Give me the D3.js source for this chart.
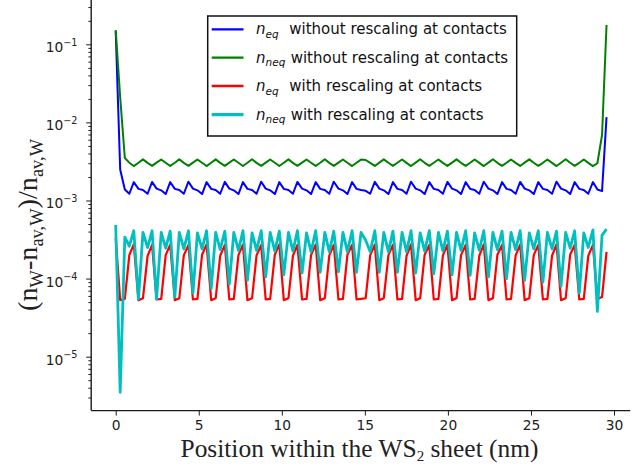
<!DOCTYPE html>
<html><head><meta charset="utf-8">
<script src="https://cdn.jsdelivr.net/npm/d3@7"></script>
<style>body{margin:0;background:#fff}svg{display:block}</style>
</head><body>
<svg id="chart" width="636" height="469"></svg>
<script>
// ---------- data ----------
const xPos = [
0.00,0.27,0.55,0.82,1.09,1.37,1.64,1.92,2.19,2.46,
2.74,3.01,3.28,3.56,3.83,4.10,4.38,4.65,4.92,5.20,
5.47,5.75,6.02,6.29,6.57,6.84,7.11,7.39,7.66,7.93,
8.21,8.48,8.76,9.03,9.30,9.58,9.85,10.12,10.40,10.67,
10.94,11.22,11.49,11.76,12.04,12.31,12.59,12.86,13.13,13.41,
13.68,13.95,14.23,14.50,14.77,15.05,15.32,15.60,15.87,16.14,
16.42,16.69,16.96,17.24,17.51,17.78,18.06,18.33,18.60,18.88,
19.15,19.43,19.70,19.97,20.25,20.52,20.79,21.07,21.34,21.61,
21.89,22.16,22.44,22.71,22.98,23.26,23.53,23.80,24.08,24.35,
24.62,24.90,25.17,25.44,25.72,25.99,26.27,26.54,26.81,27.09,
27.36,27.63,27.91,28.18,28.45,28.73,29.00,29.28,29.55];

const blueEqNoRescale = [
0.148,2.50e-3,1.38e-3,1.22e-3,
1.72e-3,1.41e-3,1.36e-3,1.22e-3, 1.73e-3,1.42e-3,1.35e-3,1.21e-3,
1.72e-3,1.41e-3,1.36e-3,1.22e-3, 1.74e-3,1.42e-3,1.35e-3,1.21e-3,
1.72e-3,1.41e-3,1.36e-3,1.22e-3, 1.73e-3,1.42e-3,1.35e-3,1.21e-3,
1.72e-3,1.41e-3,1.36e-3,1.22e-3, 1.74e-3,1.42e-3,1.35e-3,1.21e-3,
1.72e-3,1.41e-3,1.36e-3,1.22e-3, 1.73e-3,1.42e-3,1.35e-3,1.21e-3,
1.72e-3,1.41e-3,1.36e-3,1.22e-3, 1.74e-3,1.42e-3,1.35e-3,1.21e-3,
1.72e-3,1.41e-3,1.36e-3,1.33e-3,
1.22e-3,1.73e-3,1.42e-3,1.35e-3, 1.21e-3,1.72e-3,1.41e-3,1.36e-3,
1.22e-3,1.74e-3,1.42e-3,1.35e-3, 1.21e-3,1.72e-3,1.41e-3,1.36e-3,
1.22e-3,1.73e-3,1.42e-3,1.35e-3, 1.21e-3,1.72e-3,1.41e-3,1.36e-3,
1.22e-3,1.74e-3,1.42e-3,1.35e-3, 1.21e-3,1.72e-3,1.41e-3,1.36e-3,
1.22e-3,1.73e-3,1.42e-3,1.35e-3, 1.21e-3,1.72e-3,1.41e-3,1.36e-3,
1.22e-3,1.74e-3,1.42e-3,1.35e-3, 1.21e-3,1.72e-3,1.41e-3,1.36e-3,
1.22e-3,1.72e-3,1.38e-3,1.32e-3,
1.17e-2];

const greenNeqNoRescale = [
0.152,0.021,3.50e-3,3.05e-3,
2.76e-3,3.04e-3,3.36e-3,3.03e-3, 2.78e-3,3.05e-3,3.35e-3,3.04e-3,
2.77e-3,3.04e-3,3.37e-3,3.03e-3, 2.78e-3,3.05e-3,3.35e-3,3.04e-3,
2.76e-3,3.04e-3,3.36e-3,3.03e-3, 2.78e-3,3.05e-3,3.35e-3,3.04e-3,
2.77e-3,3.04e-3,3.37e-3,3.03e-3, 2.78e-3,3.05e-3,3.35e-3,3.04e-3,
2.76e-3,3.04e-3,3.36e-3,3.03e-3, 2.78e-3,3.05e-3,3.35e-3,3.04e-3,
2.77e-3,3.04e-3,3.37e-3,3.03e-3, 2.78e-3,3.05e-3,3.35e-3,3.04e-3,
2.76e-3,3.04e-3,3.34e-3,3.30e-3,
3.03e-3,2.77e-3,3.05e-3,3.36e-3, 3.04e-3,2.78e-3,3.04e-3,3.35e-3,
3.03e-3,2.76e-3,3.05e-3,3.37e-3, 3.04e-3,2.78e-3,3.04e-3,3.35e-3,
3.03e-3,2.77e-3,3.05e-3,3.36e-3, 3.04e-3,2.78e-3,3.04e-3,3.35e-3,
3.03e-3,2.76e-3,3.05e-3,3.37e-3, 3.04e-3,2.78e-3,3.04e-3,3.35e-3,
3.03e-3,2.77e-3,3.05e-3,3.36e-3, 3.04e-3,2.78e-3,3.04e-3,3.35e-3,
3.03e-3,2.76e-3,3.05e-3,3.37e-3, 3.04e-3,2.78e-3,3.04e-3,3.35e-3,
3.03e-3,2.75e-3,3.00e-3,6.90e-3,
0.177];

const redEqRescale = [
3.3e-4,5.3e-5,5.5e-5,2.0e-4,
2.75e-4,5.3e-5,5.6e-5,1.95e-4, 2.70e-4,5.4e-5,5.5e-5,2.00e-4,
2.72e-4,5.3e-5,5.6e-5,1.98e-4, 2.70e-4,5.4e-5,5.5e-5,2.02e-4,
2.74e-4,5.3e-5,5.6e-5,1.96e-4, 2.70e-4,5.4e-5,5.5e-5,2.00e-4,
2.72e-4,5.3e-5,5.6e-5,1.98e-4, 2.70e-4,5.4e-5,5.5e-5,2.02e-4,
2.74e-4,5.3e-5,5.6e-5,1.96e-4, 2.70e-4,5.4e-5,5.5e-5,2.00e-4,
2.72e-4,5.3e-5,5.6e-5,1.98e-4, 2.70e-4,5.4e-5,5.5e-5,2.02e-4,
2.70e-4,5.4e-5,5.5e-5,5.6e-5,
1.98e-4,2.72e-4,5.3e-5,5.6e-5, 2.00e-4,2.70e-4,5.4e-5,5.5e-5,
1.96e-4,2.74e-4,5.3e-5,5.6e-5, 2.02e-4,2.70e-4,5.4e-5,5.5e-5,
1.98e-4,2.72e-4,5.3e-5,5.6e-5, 2.00e-4,2.70e-4,5.4e-5,5.5e-5,
1.96e-4,2.74e-4,5.3e-5,5.6e-5, 2.02e-4,2.70e-4,5.4e-5,5.5e-5,
1.98e-4,2.72e-4,5.3e-5,5.6e-5, 2.00e-4,2.70e-4,5.4e-5,5.5e-5,
1.96e-4,2.74e-4,5.3e-5,5.6e-5, 2.02e-4,2.70e-4,5.4e-5,5.5e-5,
1.95e-4,2.70e-4,5.5e-5,5.8e-5,
2.2e-4];

const cyanNeqRescale = [
4.85e-4,3.5e-6,3.4e-4,2.6e-4,
4.10e-4,5.5e-5,3.90e-4,2.50e-4, 4.10e-4,5.5e-5,3.90e-4,2.45e-4,
4.05e-4,5.8e-5,3.90e-4,2.40e-4, 4.10e-4,6.5e-5,3.85e-4,2.40e-4,
4.10e-4,7.5e-5,3.90e-4,2.35e-4, 4.05e-4,8.5e-5,3.90e-4,2.30e-4,
4.10e-4,9.5e-5,3.85e-4,2.30e-4, 4.10e-4,1.05e-4,3.90e-4,2.25e-4,
4.05e-4,1.12e-4,3.90e-4,2.25e-4, 4.10e-4,1.18e-4,3.85e-4,2.20e-4,
4.10e-4,1.20e-4,3.90e-4,2.20e-4, 4.05e-4,1.22e-4,3.90e-4,2.20e-4,
4.10e-4,1.20e-4,3.90e-4,3.10e-4,
2.20e-4,4.10e-4,1.20e-4,3.90e-4, 2.20e-4,4.05e-4,1.20e-4,3.90e-4,
2.20e-4,4.10e-4,1.18e-4,3.85e-4, 2.25e-4,4.10e-4,1.15e-4,3.90e-4,
2.25e-4,4.05e-4,1.12e-4,3.90e-4, 2.30e-4,4.10e-4,1.10e-4,3.85e-4,
2.30e-4,4.10e-4,1.05e-4,3.90e-4, 2.35e-4,4.05e-4,1.00e-4,3.90e-4,
2.35e-4,4.10e-4,9.5e-5,3.85e-4, 2.40e-4,4.10e-4,9.0e-5,3.90e-4,
2.40e-4,4.05e-4,8.0e-5,3.90e-4, 2.45e-4,4.10e-4,6.5e-5,3.85e-4,
2.50e-4,4.20e-4,3.8e-5,3.60e-4,
4.3e-4];

const xTicks = [0, 5, 10, 15, 20, 25, 30];
const yTickExponents = [-1, -2, -3, -4, -5];
const seriesNames = ["eq", "neq", "eq", "neq"];
const seriesTexts = ["without rescaling at contacts", "without rescaling at contacts",
                     "with rescaling at contacts", "with rescaling at contacts"];
const seriesColors = ["#0000ff", "#008000", "#ff0000", "#00bfbf"];
const seriesValues = [blueEqNoRescale, greenNeqNoRescale, redEqRescale, cyanNeqRescale];
const seriesWidths = [2, 2, 2.2, 2.8];
const xLabel = ["Position within the WS", "2", " sheet (nm)"];

// ---------- layout ----------
const svg = d3.select("#chart");
const L = 91.2, R = 630.2, T = 6.6, B = 410.6;
const x = d3.scaleLinear().domain([-1.475, 30.975]).range([L, R]);
const y = d3.scaleLog().domain([2.04e-6, 0.304]).range([B, T]);
const axisColor = "#1a1a1a";

// lines
const lineGen = vals => d3.line().x((d, i) => x(xPos[i])).y(d => y(d))(vals);
seriesValues.forEach((vals, k) => {
  svg.append("path").attr("d", lineGen(vals)).attr("fill", "none")
    .attr("stroke", seriesColors[k]).attr("stroke-width", seriesWidths[k])
    .attr("stroke-linejoin", "round");
});

// x axis
const xAxis = d3.axisBottom(x).tickValues(xTicks).tickSize(5).tickPadding(5).tickFormat(d3.format("d"));
const gx = svg.append("g").attr("transform", `translate(0,${B})`).call(xAxis);
gx.select(".domain").remove();
gx.selectAll(".tick line").attr("stroke", axisColor).attr("stroke-width", 1);
gx.selectAll(".tick text").attr("font-family", "DejaVu Sans").attr("font-size", 13.8).attr("fill", "#222");
svg.append("line").attr("x1", L).attr("x2", R).attr("y1", B).attr("y2", B)
  .attr("stroke", axisColor).attr("stroke-width", 1.4);

// y axis major + minor ticks
const minor = [];
for (let e = -6; e <= 0; e++) for (let m = 2; m <= 9; m++) {
  const v = m * Math.pow(10, e);
  if (v >= y.domain()[0] && v <= y.domain()[1]) minor.push(v);
}
const gy = svg.append("g").attr("transform", `translate(${L},0)`);
gy.call(d3.axisLeft(y).tickValues(minor).tickSize(2.8).tickFormat(""));
gy.call(g => g.select(".domain").remove());
const gyMaj = svg.append("g").attr("transform", `translate(${L},0)`);
gyMaj.call(d3.axisLeft(y).tickValues(yTickExponents.map(e => Math.pow(10, e))).tickSize(5).tickFormat(""));
gyMaj.select(".domain").remove();
svg.selectAll(".tick line").attr("stroke", axisColor).attr("stroke-width", 1);
svg.append("line").attr("x1", L).attr("x2", L).attr("y1", T - 8).attr("y2", B)
  .attr("stroke", axisColor).attr("stroke-width", 1.4);

yTickExponents.forEach(e => {
  const t = svg.append("text").attr("x", 77.5).attr("y", y(Math.pow(10, e)) + 8)
    .attr("text-anchor", "end").attr("font-family", "DejaVu Sans").attr("font-size", 13.8).attr("fill", "#222");
  t.append("tspan").text("10");
  t.append("tspan").attr("dy", -6.5).attr("font-size", 9.7).text("\u2212" + Math.abs(e));
});

// axis titles
const xt = svg.append("text").attr("x", 359.5).attr("y", 457)
  .attr("text-anchor", "middle").attr("font-family", "Liberation Serif").attr("font-size", 23).attr("fill", "#222");
xt.append("tspan").text(xLabel[0]);
xt.append("tspan").attr("dy", 4).attr("font-size", 15).text(xLabel[1]);
xt.append("tspan").attr("dy", -4).text(xLabel[2]);
let w = xt.node().getComputedTextLength();
xt.attr("font-size", 23 * 359 / w);

const yt = svg.append("text").attr("transform", "translate(37,225) rotate(-90)")
  .attr("text-anchor", "middle").attr("font-family", "Liberation Serif").attr("fill", "#222");
const yParts = [["(n", 0, 1], ["W", 5, 0.65], ["-n", -5, 1], ["av,W", 5, 0.65], [")/n", -5, 1], ["av,W", 5, 0.65]];
function buildY(fs) {
  yt.selectAll("tspan").remove();
  yParts.forEach(p => yt.append("tspan").attr("dy", p[1] * fs / 23).attr("font-size", fs * p[2]).text(p[0]));
  return yt.node().getComputedTextLength();
}
const yw = buildY(23);
buildY(23 * 172 / yw);

// legend
const lg = svg.append("g");
lg.append("rect").attr("x", 207.7).attr("y", 16).attr("width", 309).attr("height", 120)
  .attr("fill", "#fff").attr("stroke", "#111").attr("stroke-width", 1.5);
const rowY = [29.3, 57.7, 86, 114.6];
seriesNames.forEach((nm, k) => {
  lg.append("line").attr("x1", 211.7).attr("x2", 243.5).attr("y1", rowY[k]).attr("y2", rowY[k])
    .attr("stroke", seriesColors[k]).attr("stroke-width", seriesWidths[k] + 0.3);
  const t = lg.append("text").attr("x", 256).attr("y", rowY[k] + 5)
    .attr("font-family", "DejaVu Sans").attr("font-size", 15).attr("fill", "#111");
  t.append("tspan").attr("font-style", "italic").text("n");
  t.append("tspan").attr("font-style", "italic").attr("font-size", 10.5).attr("dy", 3.5).text(nm);
  t.append("tspan").attr("x", nm === "eq" ? 289.3 : 290.7).attr("dy", -3.5).text(seriesTexts[k]);
});
</script>
</body></html>
